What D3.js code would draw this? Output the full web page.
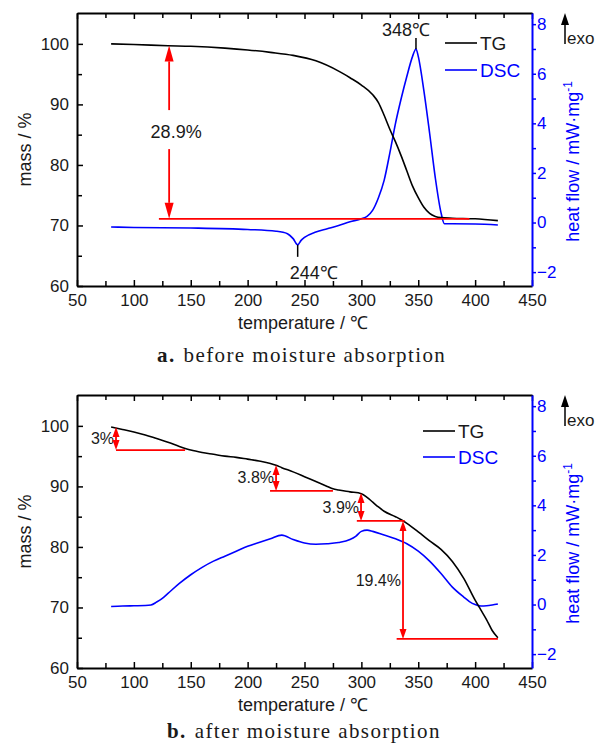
<!DOCTYPE html>
<html>
<head>
<meta charset="utf-8">
<script src="https://cdn.jsdelivr.net/npm/d3@7"></script>
<style>
  body { margin: 0; background: #fff; }
  svg text { font-family: "Liberation Sans Narrow", "Arial Narrow", "Liberation Sans", Arial, sans-serif; fill: #1a1a1a; }
  .cap text, text.cap { font-family: "Liberation Serif", "DejaVu Serif", serif; }
</style>
</head>
<body>
<svg id="chart" width="599" height="743"></svg>
<script>
// ---------------------------------------------------------------- data (a) before moisture absorption
var tgTempA = [80, 100, 130, 150, 180, 200, 220, 240, 260, 280, 290, 300, 310, 315, 320, 325, 330, 335, 340, 345, 350, 355, 360, 365, 370, 380, 400, 420]
var tgMassA = [100.0, 99.9, 99.7, 99.6, 99.3, 99.0, 98.6, 98.1, 97.2, 95.5, 94.4, 93.2, 91.6, 90.3, 88.2, 85.9, 83.8, 81.5, 79.0, 76.5, 74.6, 73.0, 72.0, 71.5, 71.3, 71.2, 71.1, 70.8]
var dscTempA = [80, 100, 150, 200, 225, 235, 240, 244, 247, 250, 260, 270, 280, 290, 300, 305, 310, 315, 320, 325, 330, 335, 340, 345, 348, 350, 355, 360, 365, 370, 373, 380, 400, 420]
var dscHeatA = [-0.18, -0.2, -0.22, -0.28, -0.35, -0.45, -0.65, -0.9, -0.72, -0.6, -0.38, -0.25, -0.12, 0.03, 0.15, 0.25, 0.5, 1.0, 1.7, 2.8, 4.0, 5.0, 5.9, 6.7, 7.0, 6.7, 5.3, 3.6, 1.8, 0.4, -0.05, -0.05, -0.06, -0.1]
// mass-loss arrows: temperature, from mass, to mass, label
var arrowsA = [{ t: 131, from: 99.75, to: 71.1, label: "28.9%" }]
var hlinesA = [{ t0: 122, t1: 395, m: 71.1 }]
var peaksA = [{ t: 348, h: 7.0, label: "348℃", side: "up" }, { t: 244, h: -0.9, label: "244℃", side: "down" }]

// ---------------------------------------------------------------- data (b) after moisture absorption
var tgTempB = [80, 90, 100, 110, 120, 130, 140, 150, 160, 170, 180, 190, 200, 210, 220, 225, 230, 240, 250, 260, 270, 275, 280, 290, 300, 305, 310, 315, 320, 330, 335, 340, 350, 360, 370, 380, 390, 400, 405, 410, 415, 420]
var tgMassB = [99.8, 99.4, 99.0, 98.5, 97.9, 97.3, 96.6, 96.0, 95.6, 95.3, 95.0, 94.8, 94.5, 94.2, 93.8, 93.5, 93.1, 92.4, 91.6, 90.8, 90.0, 89.6, 89.4, 89.1, 88.8, 88.2, 87.4, 86.6, 85.9, 85.0, 84.5, 83.9, 82.5, 81.0, 79.6, 77.6, 74.8, 71.2, 69.6, 68.0, 66.2, 65.0]
var dscTempB = [80, 90, 100, 110, 115, 120, 125, 130, 140, 150, 160, 170, 180, 190, 200, 210, 220, 230, 240, 250, 260, 270, 280, 290, 295, 300, 305, 310, 320, 330, 340, 350, 360, 370, 380, 390, 395, 400, 405, 410, 415, 420]
var dscHeatB = [-0.08, -0.06, -0.05, -0.04, -0.02, 0.1, 0.25, 0.45, 0.85, 1.2, 1.5, 1.75, 1.95, 2.15, 2.35, 2.5, 2.65, 2.8, 2.62, 2.48, 2.43, 2.45, 2.5, 2.62, 2.75, 2.95, 3.0, 2.95, 2.8, 2.65, 2.45, 2.15, 1.75, 1.25, 0.7, 0.3, 0.12, 0.0, -0.06, -0.05, -0.02, 0.02]
var arrowsB = [
    { t: 84.3, from: 99.8, to: 96.0, label: "3%" },
    { t: 225, from: 93.55, to: 89.26, label: "3.8%" },
    { t: 299.7, from: 88.9, to: 84.3, label: "3.9%" },
    { t: 336.6, from: 84.3, to: 64.8, label: "19.4%" }
]
var hlinesB = [{ t0: 84.3, t1: 145, m: 96.0 }, { t0: 219.7, t1: 275, m: 89.26 }, { t0: 296, t1: 338, m: 84.3 }, { t0: 331, t1: 420, m: 64.8 }]

// ---------------------------------------------------------------- axes / text
var xTicks = [50, 100, 150, 200, 250, 300, 350, 400, 450],
    xMinor = [75, 125, 175, 225, 275, 325, 375, 425],
    massTicks = [60, 70, 80, 90, 100],
    massMinor = [65, 75, 85, 95],
    heatTicks = [-2, 0, 2, 4, 6, 8],
    heatMinor = [-1, 1, 3, 5, 7]
var legendNames = ["TG", "DSC"]

var BLUE = "#0000ff", RED = "#ff0000"
var svg = d3.select("#chart")

var margin = { left: 77, right: 532 }

function drawPanel(p) {
    var g = svg.append("g")
    var x = d3.scaleLinear().domain([50, 450]).range([margin.left, margin.right]),
        yL = d3.scaleLinear().domain([60, 105.1]).range([p.bottom, p.top]),
        yR = d3.scaleLinear().domain([-2.56, 8.45]).range([p.bottom, p.top])

    //------------- axes
    var xb = g.append("g").attr("transform", "translate(0," + p.bottom + ")")
        .call(d3.axisBottom(x).tickValues(xTicks).tickSize(-6).tickSizeOuter(0).tickPadding(8))
    xb.append("g").call(d3.axisBottom(x).tickValues(xMinor).tickSize(-5).tickFormat("")).select(".domain").remove()
    var xt = g.append("g").attr("transform", "translate(0," + p.top + ")")
        .call(d3.axisTop(x).tickValues(xTicks).tickSize(-6).tickSizeOuter(0).tickFormat(""))
    xt.append("g").call(d3.axisTop(x).tickValues(xMinor).tickSize(-5).tickFormat("")).select(".domain").remove()
    var yl = g.append("g").attr("transform", "translate(" + margin.left + ",0)")
        .call(d3.axisLeft(yL).tickValues(massTicks).tickSize(-6).tickSizeOuter(0).tickPadding(8))
    yl.append("g").call(d3.axisLeft(yL).tickValues(massMinor).tickSize(-5).tickFormat("")).select(".domain").remove()
    var yr = g.append("g").attr("transform", "translate(" + margin.right + ",0)")
        .call(d3.axisRight(yR).tickValues(heatTicks).tickSize(4).tickSizeOuter(0).tickPadding(1).tickFormat(d3.format("d")))
    yr.append("g").call(d3.axisRight(yR).tickValues(heatMinor).tickSize(4).tickFormat("")).select(".domain").remove()

    g.selectAll(".domain").attr("stroke-width", 2)
    g.selectAll(".tick line").attr("stroke-width", 1.5)
    g.selectAll(".tick text").style("font-size", "17px").attr("fill", "#1a1a1a")
    yr.selectAll(".domain").attr("stroke", BLUE)
    yr.selectAll(".tick line").attr("stroke", BLUE)
    yr.selectAll(".tick text").attr("fill", BLUE).style("fill", BLUE)

    //------------- axis titles
    g.append("text").attr("transform", "translate(25," + (p.top + p.bottom) / 2 + ") rotate(-90)")
        .attr("text-anchor", "middle").attr("dy", "0.35em").style("font-size", "18px").text("mass / %")
    g.append("text").attr("x", 303).attr("y", p.bottom + 43).attr("text-anchor", "middle")
        .style("font-size", "18px").text("temperature / ℃")
    var rt = g.append("text").attr("transform", "translate(573," + ((p.top + p.bottom) / 2 + 12) + ") rotate(-90)")
        .attr("text-anchor", "middle").attr("dy", "0.35em").style("font-size", "18px").style("fill", BLUE)
    rt.append("tspan").text("heat flow / mW·mg")
    rt.append("tspan").attr("dy", "-0.6em").style("font-size", "12px").text("-1")

    // exo arrow
    g.append("line").attr("x1", 565).attr("x2", 565).attr("y1", p.top + 31).attr("y2", p.top + 8)
        .attr("stroke", "#000").attr("stroke-width", 1.5)
    g.append("path").attr("d", "M565," + (p.top + 0) + "L561," + (p.top + 12) + "L569," + (p.top + 12) + "Z").attr("fill", "#000")
    g.append("text").attr("x", 567).attr("y", p.top + 31).style("font-size", "17px").text("exo")

    //------------- curves
    var tgLine = d3.line().curve(d3.curveMonotoneX).x(d => x(d[0])).y(d => yL(d[1]))
    var dscLine = d3.line().curve(d3.curveMonotoneX).x(d => x(d[0])).y(d => yR(d[1]))
    g.append("path").attr("d", dscLine(p.dscT.map((t, i) => [t, p.dscH[i]])))
        .attr("fill", "none").attr("stroke", BLUE).attr("stroke-width", 1.6)
    g.append("path").attr("d", tgLine(p.tgT.map((t, i) => [t, p.tgM[i]])))
        .attr("fill", "none").attr("stroke", "#000").attr("stroke-width", 1.6)

    //------------- red annotations
    p.hlines.forEach(h => {
        g.append("line").attr("x1", x(h.t0)).attr("x2", x(h.t1)).attr("y1", yL(h.m)).attr("y2", yL(h.m))
            .attr("stroke", RED).attr("stroke-width", 1.8)
    })
    p.arrows.forEach(a => {
        var ax = x(a.t), y0 = yL(a.from), y1 = yL(a.to)
        var hw = p.headW, hl = p.headL
        if (p.bigLabel) {
            var mid = (y0 + y1) / 2
            g.append("line").attr("x1", ax).attr("x2", ax).attr("y1", y0 + hl).attr("y2", mid - 22).attr("stroke", RED).attr("stroke-width", 1.8)
            g.append("line").attr("x1", ax).attr("x2", ax).attr("y1", mid + 17).attr("y2", y1 - hl).attr("stroke", RED).attr("stroke-width", 1.8)
            g.append("text").attr("x", ax + 7).attr("y", mid).attr("dy", "0.35em").attr("text-anchor", "middle")
                .style("font-size", "18px").text(a.label)
        } else {
            g.append("line").attr("x1", ax).attr("x2", ax).attr("y1", y0 + hl).attr("y2", y1 - hl).attr("stroke", RED).attr("stroke-width", 1.8)
            g.append("text").attr("x", ax - 2).attr("y", (y0 + y1) / 2).attr("dy", "0.35em").attr("text-anchor", "end")
                .style("font-size", "16px").text(a.label)
        }
        g.append("path").attr("d", "M" + ax + "," + y0 + "L" + (ax - hw) + "," + (y0 + hl) + "L" + (ax + hw) + "," + (y0 + hl) + "Z").attr("fill", RED)
        g.append("path").attr("d", "M" + ax + "," + y1 + "L" + (ax - hw) + "," + (y1 - hl) + "L" + (ax + hw) + "," + (y1 - hl) + "Z").attr("fill", RED)
    })

    //------------- peak labels
    p.peaks.forEach(k => {
        var px = x(k.t), py = yR(k.h)
        if (k.side == "up") {
            g.append("line").attr("x1", px).attr("x2", px).attr("y1", py).attr("y2", py - 11).attr("stroke", "#000").attr("stroke-width", 1.5)
            g.append("text").attr("x", px - 10).attr("y", py - 13).attr("text-anchor", "middle").style("font-size", "18px").text(k.label)
        } else {
            g.append("line").attr("x1", px).attr("x2", px).attr("y1", py).attr("y2", py + 12).attr("stroke", "#000").attr("stroke-width", 1.5)
            g.append("text").attr("x", px - 8).attr("y", py + 34).style("font-size", "18px").text(k.label)
        }
    })

    //------------- legend
    var lg = g.selectAll(".legend").data(legendNames).join("g").attr("class", "legend")
        .attr("transform", (d, i) => "translate(" + p.legX + "," + (p.legY + i * p.legStep) + ")")
    lg.append("line").attr("x1", 0).attr("x2", 32).attr("stroke", (d, i) => i ? BLUE : "#000").attr("stroke-width", 1.6)
    lg.append("text").attr("x", 35 + 0).attr("dy", "0.36em").style("font-size", "19px")
        .style("fill", (d, i) => i ? BLUE : "#1a1a1a").text(d => d)

    //------------- caption
    var cap = g.append("text").attr("class", "cap").attr("x", p.capX).attr("y", p.bottom + p.capDy)
        .style("font-size", "21px").style("letter-spacing", "1.4px")
    cap.append("tspan").style("font-weight", "bold").text(p.capLetter)
    cap.append("tspan").attr("dx", 8).text(p.caption)
}

drawPanel({
    top: 13, bottom: 286,
    tgT: tgTempA, tgM: tgMassA, dscT: dscTempA, dscH: dscHeatA,
    arrows: arrowsA, hlines: hlinesA, peaks: peaksA,
    bigLabel: true, headW: 4.5, headL: 16,
    legX: 445, legY: 43, legStep: 27,
    capX: 157, capDy: 76, capLetter: "a.", caption: "before moisture absorption"
})
drawPanel({
    top: 395, bottom: 668,
    tgT: tgTempB, tgM: tgMassB, dscT: dscTempB, dscH: dscHeatB,
    arrows: arrowsB, hlines: hlinesB, peaks: [],
    bigLabel: false, headW: 3.5, headL: 10,
    legX: 423, legY: 431, legStep: 26,
    capX: 167, capDy: 70, capLetter: "b.", caption: "after moisture absorption"
})
</script>
</body>
</html>
